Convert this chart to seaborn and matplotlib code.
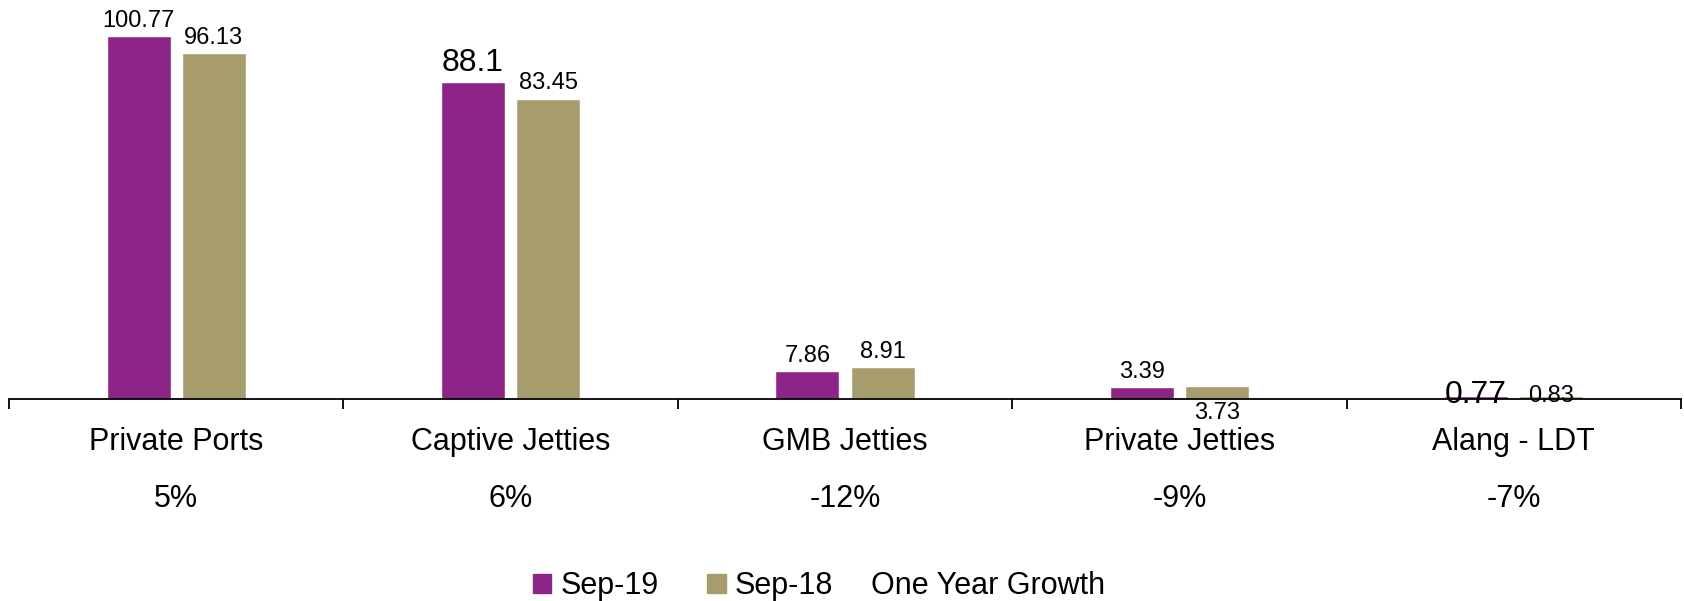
import matplotlib
matplotlib.use("Agg")
import matplotlib.pyplot as plt
import matplotlib.patches as mpatches
import seaborn as sns
import pandas as pd

categories = ["Private Ports", "Captive Jetties", "GMB Jetties", "Private Jetties", "Alang - LDT"]
sep19 = [100.77, 88.1, 7.86, 3.39, 0.77]
sep18 = [96.13, 83.45, 8.91, 3.73, 0.83]
growth = ["5%", "6%", "-12%", "-9%", "-7%"]
periods = ["Sep-19", "Sep-18"]

colors = {"Sep-19": "#8D2488", "Sep-18": "#A79C6C"}

df = pd.DataFrame({
    "category": categories * 2,
    "period": ["Sep-19"] * len(categories) + ["Sep-18"] * len(categories),
    "value": sep19 + sep18,
})

sns.set_style("white")
plt.rcParams["font.family"] = ["Liberation Sans", "DejaVu Sans"]
plt.rcParams["text.color"] = "black"

fig = plt.figure(figsize=(16.84, 6.01), dpi=100)
ax = fig.add_axes([9 / 1684, 1 - 399 / 601, (1681 - 9) / 1684, (399 - 2) / 601])

sns.barplot(
    data=df, x="category", y="value", hue="period",
    hue_order=periods, palette=colors,
    width=0.45, gap=0.15, legend=False, ax=ax,
    saturation=1
)

ax.set_xlim(-0.5, len(categories) - 0.5)
ax.set_ylim(0, 110.3)

# data labels, a few of them placed oddly like in the source chart
for period, container in zip(periods, ax.containers):
    for i, bar in enumerate(container):
        val = bar.get_height()
        x = bar.get_x() + bar.get_width() / 2
        size = 17
        offset = 3
        va = "bottom"
        if period == "Sep-19" and categories[i] == "Captive Jetties":
            size = 23
        if period == "Sep-18" and categories[i] == "Private Jetties":
            offset = -12
            va = "top"
        if categories[i] == "Alang - LDT":
            offset = 0
            va = "center"
            if period == "Sep-19":
                size = 23
                offset = 1
        label = f"{val:g}"
        ax.annotate(label, (x, val), xytext=(0, offset), textcoords="offset points",
                    ha="center", va=va, fontsize=size, color="black")

# axis styling
for side in ["top", "right", "left"]:
    ax.spines[side].set_visible(False)
ax.spines["bottom"].set_linewidth(1.3)
ax.spines["bottom"].set_color("black")
ax.set_yticks([])
ax.set_xticks([i - 0.5 for i in range(len(categories) + 1)])
ax.set_xticklabels([])
ax.tick_params(axis="x", direction="out", length=7, width=1.3, color="black", bottom=True)
ax.set_xlabel("")
ax.set_ylabel("")

trans = ax.get_xaxis_transform()
for i, (cat, g) in enumerate(zip(categories, growth)):
    ax.text(i, -43 / 397, cat, transform=trans, ha="center", va="center", fontsize=22)
    ax.text(i, -100 / 397, g, transform=trans, ha="center", va="center", fontsize=22)

handles = [mpatches.Patch(color=colors[p]) for p in periods]
fig.legend(handles, periods, loc="center",
           bbox_to_anchor=(683 / 1684, 1 - 586 / 601), ncol=2, frameon=False,
           fontsize=22, handlelength=0.6, handleheight=0.6,
           handletextpad=0.3, columnspacing=1.6)
fig.text(871 / 1684, 1 - 586 / 601, "One Year Growth", ha="left", va="center", fontsize=22)

fig.savefig("out.png", dpi=100)
